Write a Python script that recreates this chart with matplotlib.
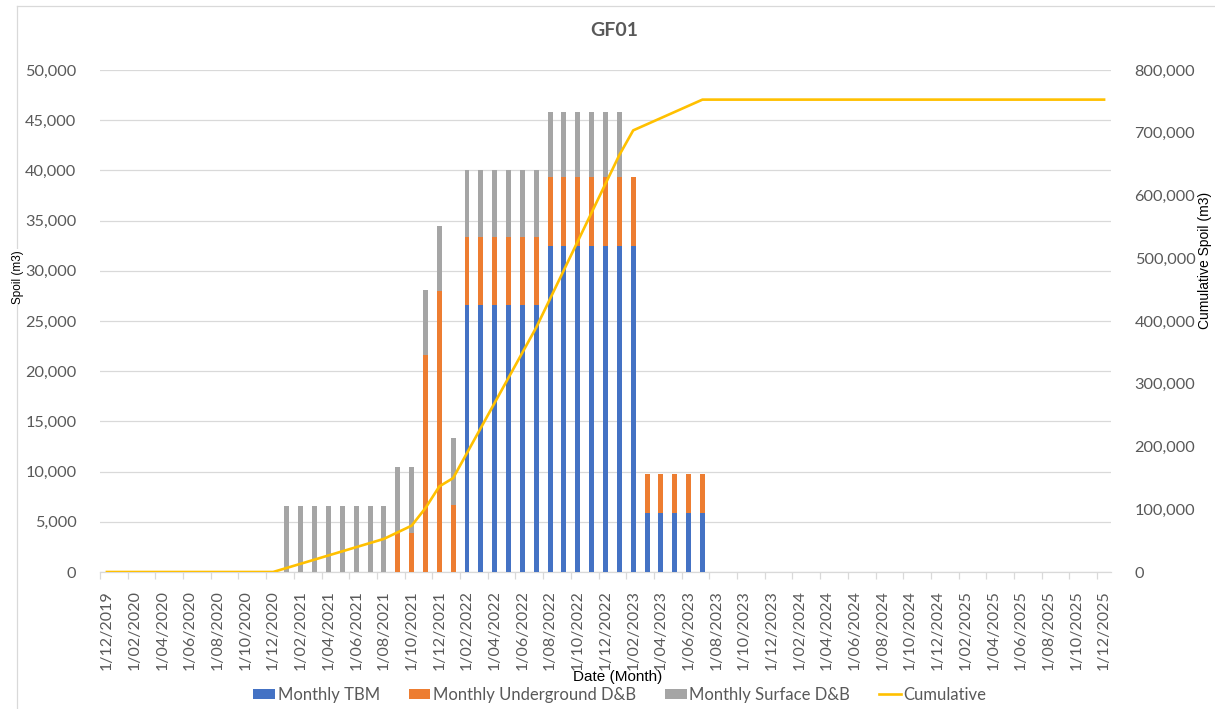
import matplotlib
matplotlib.use('Agg')
import matplotlib.pyplot as plt
from matplotlib.lines import Line2D
from matplotlib.patches import Patch
from matplotlib.ticker import FuncFormatter, FixedLocator
import numpy as np
import pandas as pd

# monthly spoil volumes (m3), Dec 2019 .. Dec 2025
months = pd.date_range('2019-12-01', '2025-12-01', freq='MS')
month_labels = [d.strftime('1/%m/%Y') for d in months]

tbm = [
    0, 0, 0, 0, 0, 0, 0, 0, 0, 0, 0, 0, 0,                      # Dec19 - Dec20
    0, 0, 0, 0, 0, 0, 0, 0, 0, 0, 0, 0,                         # Jan21 - Dec21
    0, 26600, 26600, 26600, 26600, 26600, 26600,                # Jan22 - Jul22
    32500, 32500, 32500, 32500, 32500,                          # Aug22 - Dec22
    32500, 32500, 5900, 5900, 5900, 5900, 5900,                 # Jan23 - Jul23
    0, 0, 0, 0, 0,                                              # Aug23 - Dec23
    0, 0, 0, 0, 0, 0, 0, 0, 0, 0, 0, 0,                         # 2024
    0, 0, 0, 0, 0, 0, 0, 0, 0, 0, 0, 0,                         # 2025
]
underground_db = [
    0, 0, 0, 0, 0, 0, 0, 0, 0, 0, 0, 0, 0,
    0, 0, 0, 0, 0, 0, 0, 0, 3900, 3900, 21600, 28000,
    6700, 6800, 6800, 6800, 6800, 6800, 6800,
    6800, 6800, 6800, 6800, 6800,
    6800, 6800, 3900, 3900, 3900, 3900, 3900,
    0, 0, 0, 0, 0,
    0, 0, 0, 0, 0, 0, 0, 0, 0, 0, 0, 0,
    0, 0, 0, 0, 0, 0, 0, 0, 0, 0, 0, 0,
]
surface_db = [
    0, 0, 0, 0, 0, 0, 0, 0, 0, 0, 0, 0, 0,
    6600, 6600, 6600, 6600, 6600, 6600, 6600, 6600, 6600, 6600, 6500, 6500,
    6600, 6600, 6600, 6600, 6600, 6600, 6600,
    6500, 6500, 6500, 6500, 6500,
    6500, 0, 0, 0, 0, 0, 0,
    0, 0, 0, 0, 0,
    0, 0, 0, 0, 0, 0, 0, 0, 0, 0, 0, 0,
    0, 0, 0, 0, 0, 0, 0, 0, 0, 0, 0, 0,
]

tbm = np.array(tbm)
underground_db = np.array(underground_db)
surface_db = np.array(surface_db)
cumulative = np.cumsum(tbm + underground_db + surface_db)

c_tbm = '#4472C4'
c_ug = '#ED7D31'
c_sf = '#A5A5A5'
c_cum = '#FFC000'
grid_c = '#D9D9D9'
text_c = '#595959'

plt.rcParams['font.family'] = ['Lato', 'DejaVu Sans']

W, H = 1215, 709
fig = plt.figure(figsize=(W / 100, H / 100), dpi=100)
ax = fig.add_axes([100 / W, 1 - 572 / H, 1011 / W, 502 / H])

x = np.arange(len(months))
bw = 0.36
ax.bar(x, tbm, width=bw, color=c_tbm, zorder=3)
ax.bar(x, underground_db, width=bw, bottom=tbm, color=c_ug, zorder=3)
ax.bar(x, surface_db, width=bw, bottom=tbm + underground_db, color=c_sf, zorder=3)

ax.set_xlim(-0.5, len(months) - 0.5)
ax.set_ylim(0, 50000)
ax.set_yticks(np.arange(0, 50001, 5000))
ax.yaxis.set_major_formatter(FuncFormatter(lambda v, p: '{:,.0f}'.format(v)))
ax.grid(axis='y', color=grid_c, linewidth=0.9, zorder=0)
ax.set_axisbelow(True)

# labels every 2nd month, tick marks on category boundaries
ax.set_xticks(x[::2])
ax.set_xticklabels(month_labels[::2], rotation=90, fontsize=11.5, color=text_c)
ax.xaxis.set_minor_locator(FixedLocator(np.arange(-0.5, len(months), 2)))
ax.tick_params(axis='x', which='major', length=0, pad=13)
ax.tick_params(axis='x', which='minor', length=5, color=grid_c, width=0.9)
ax.tick_params(axis='y', length=0, pad=17, labelsize=11.7, labelcolor=text_c)

for s in ['top', 'left', 'right']:
    ax.spines[s].set_visible(False)
ax.spines['bottom'].set_color(grid_c)
ax.spines['bottom'].set_linewidth(0.9)

ax2 = ax.twinx()
ax2.plot(x, cumulative, color=c_cum, linewidth=1.9, zorder=4)
ax2.set_ylim(0, 800000)
ax2.set_yticks(np.arange(0, 800001, 100000))
ax2.yaxis.set_major_formatter(FuncFormatter(lambda v, p: '{:,.0f}'.format(v)))
ax2.tick_params(axis='y', length=0, pad=17, labelsize=11.7, labelcolor=text_c)
for s in ['top', 'left', 'right', 'bottom']:
    ax2.spines[s].set_visible(False)

# chart border
fig.add_artist(Line2D([17 / W, 17 / W], [0, 1 - 6 / H], color=grid_c, linewidth=0.9))
fig.add_artist(Line2D([17 / W, 1], [1 - 6 / H, 1 - 6 / H], color=grid_c, linewidth=0.9))

fig.text(614 / W, 1 - 31 / H, 'GF01', ha='center', va='center',
         fontsize=14, fontweight='bold', color=text_c)
fig.text(18 / W, 1 - 277 / H, 'Spoil (m3)', rotation=90, ha='center', va='center',
         fontsize=8.5, color='black', family='Liberation Sans',
         bbox=dict(facecolor='white', edgecolor='none', pad=1))
fig.text(1205 / W, 1 - 260 / H, 'Cumulative Spoil (m3)', rotation=90, ha='center',
         va='center', fontsize=10, color='black', family='Liberation Sans')
fig.text(618 / W, 1 - 677 / H, 'Date (Month)', ha='center', va='center',
         fontsize=11, color='black', family='Liberation Sans')

handles = [
    Patch(facecolor=c_tbm, edgecolor='none'),
    Patch(facecolor=c_ug, edgecolor='none'),
    Patch(facecolor=c_sf, edgecolor='none'),
    Line2D([], [], color=c_cum, linewidth=1.9),
]
labels = ['Monthly TBM', 'Monthly Underground D&B', 'Monthly Surface D&B', 'Cumulative']
leg = fig.legend(handles, labels, loc='center', bbox_to_anchor=(620 / W, 1 - 695 / H),
                 ncol=4, frameon=False, fontsize=12, handlelength=1.3, handleheight=0.6,
                 handletextpad=0.15, columnspacing=1.75, labelcolor=text_c)

fig.savefig('out.png', dpi=100)
